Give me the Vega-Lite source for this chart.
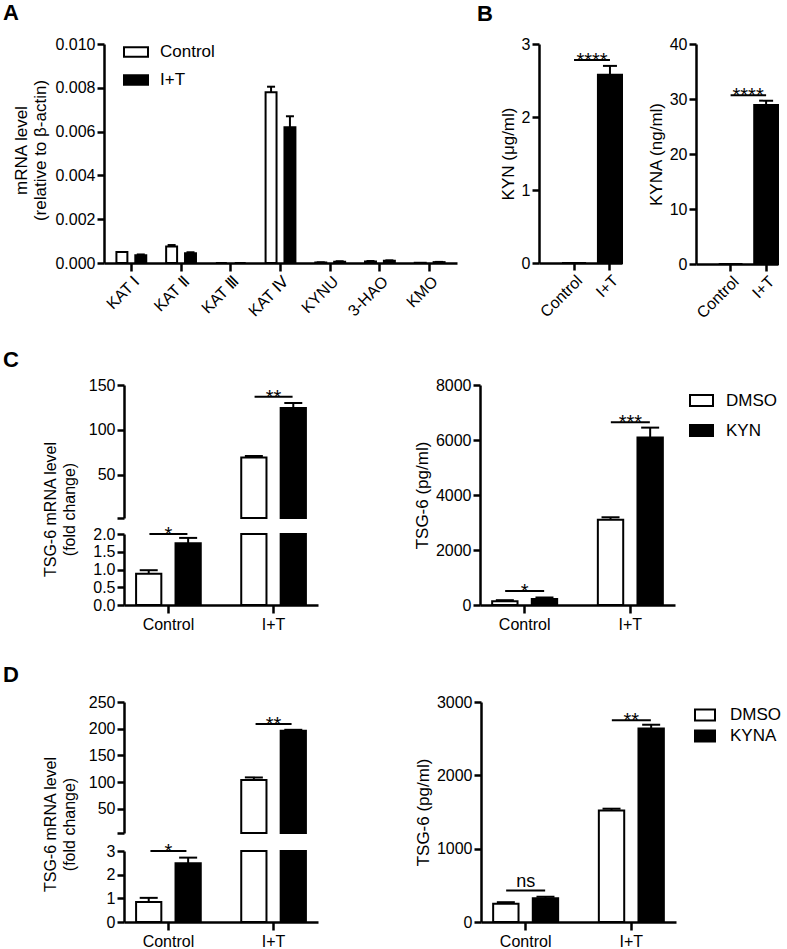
{
"$schema":"https://vega.github.io/schema/vega-lite/v6.json",
"background":"white",
"padding":{"left":3,"top":2,"right":5,"bottom":0},
"config":{
 "font":"Liberation Sans",
 "view":{"stroke":null},
 "axis":{"domainColor":"black","domainWidth":2.5,"tickColor":"black","tickWidth":2.5,"tickSize":7,"labelColor":"black","labelFontSize":16,"labelFont":"Liberation Sans","titleFont":"Liberation Sans","titleColor":"black","titleFontSize":16,"titleFontWeight":"normal","grid":false,"labelPadding":2,"titlePadding":4},
 "title":{"fontSize":22,"fontWeight":"bold","anchor":"start","frame":"group","color":"black","font":"Liberation Sans"},
 "legend":{"title":null,"labelFontSize":17,"labelColor":"black","labelFont":"Liberation Sans","symbolStrokeColor":"black","symbolStrokeWidth":2,"symbolType":"M-1,-0.48H1V0.48H-1Z","symbolSize":529,"labelOffset":12,"padding":0},
 "tick":{"opacity":1},
 "text":{"color":"black"}
},
"spacing":28,
"resolve":{"scale":{"fill":"independent","xOffset":"independent"},"legend":{"fill":"independent"}},
"vconcat":[
 {"hconcat":[
  {"vconcat":[
   {"width":333,"height":219,
    "title":{"text":"A","dx":-121,"offset":11},
    "data":{"values":[
     {"gene":"KAT Ⅰ","group":"Control","value":0.0005},
     {"gene":"KAT Ⅰ","group":"I+T","value":0.00035,"upper":0.00039},
     {"gene":"KAT Ⅱ","group":"Control","value":0.00075,"upper":0.00082},
     {"gene":"KAT Ⅱ","group":"I+T","value":0.00045,"upper":0.00049},
     {"gene":"KAT Ⅲ","group":"Control","value":0},
     {"gene":"KAT Ⅲ","group":"I+T","value":0},
     {"gene":"KAT Ⅳ","group":"Control","value":0.0078,"upper":0.00805},
     {"gene":"KAT Ⅳ","group":"I+T","value":0.0062,"upper":0.0067},
     {"gene":"KYNU","group":"Control","value":0.00002,"upper":0.00003},
     {"gene":"KYNU","group":"I+T","value":0.00006,"upper":0.00008},
     {"gene":"3-HAO","group":"Control","value":0.00007,"upper":0.00009},
     {"gene":"3-HAO","group":"I+T","value":0.0001,"upper":0.00012},
     {"gene":"KMO","group":"Control","value":0.00001},
     {"gene":"KMO","group":"I+T","value":0.00004,"upper":0.00005}
    ]},
    "layer":[
     {"mark":{"type":"bar","stroke":"black","strokeWidth":2},
      "encoding":{
       "x":{"field":"gene","type":"nominal","scale":{"domain":["KAT Ⅰ","KAT Ⅱ","KAT Ⅲ","KAT Ⅳ","KYNU","3-HAO","KMO"],"range":[-20,333],"paddingInner":0.4,"paddingOuter":0.25},"axis":{"title":null,"labelAngle":-45,"tickSize":8,"labelFontSize":16}},
       "xOffset":{"field":"group","type":"nominal","scale":{"domain":["Control","I+T"],"paddingInner":0.42,"paddingOuter":0}},
       "y":{"field":"value","type":"quantitative","scale":{"domain":[0,0.01],"nice":false},"axis":{"offset":20,"values":[0,0.002,0.004,0.006,0.008,0.01],"format":".3f","title":["mRNA level","(relative to β-actin)"],"titleFontSize":17,"titleLineHeight":19,"titleX":-74,"titleY":106,"titleBaseline":"bottom","titleAngle":270}},
       "fill":{"field":"group","type":"nominal","scale":{"domain":["Control","I+T"],"range":["white","black"]},"legend":{"orient":"none","legendX":-1,"legendY":-5,"rowPadding":6,"symbolSize":576,"symbolType":"M-1,-0.4H1V0.4H-1Z","labelOffset":11}}}},
     {"transform":[{"filter":"isValid(datum.upper)"}],
      "mark":{"type":"rule","color":"black","strokeWidth":2},
      "encoding":{"x":{"field":"gene","type":"nominal"},"xOffset":{"field":"group","type":"nominal"},"y":{"field":"value","type":"quantitative"},"y2":{"field":"upper"}}},
     {"transform":[{"filter":"isValid(datum.upper)"}],
      "mark":{"type":"tick","orient":"horizontal","color":"black","size":8,"thickness":2,"opacity":1},
      "encoding":{"x":{"field":"gene","type":"nominal"},"xOffset":{"field":"group","type":"nominal"},"y":{"field":"upper","type":"quantitative"}}}
    ]}
  ]},
  {"hconcat":[
   {"width":83,"height":219,
    "title":{"text":"B","dx":-62,"offset":10},
    "layer":[
     {"data":{"values":[{"group":"Control","value":0},{"group":"I+T","value":2.58,"upper":2.70}]},
      "layer":[
       {"mark":{"type":"bar","stroke":"black","strokeWidth":2},
        "encoding":{
         "x":{"field":"group","type":"nominal","scale":{"domain":["Control","I+T"],"paddingInner":0.33,"paddingOuter":0.32,"align":1},"axis":{"title":null,"labelAngle":-45,"tickSize":7}},
         "y":{"field":"value","type":"quantitative","scale":{"domain":[0,3],"nice":false},"axis":{"values":[0,1,2,3],"format":"d","title":"KYN (μg/ml)","titleFontSize":17}},
         "fill":{"field":"group","type":"nominal","scale":{"domain":["Control","I+T"],"range":["white","black"]},"legend":null}}},
       {"transform":[{"filter":"isValid(datum.upper)"}],
        "mark":{"type":"rule","color":"black","strokeWidth":2},
        "encoding":{"x":{"field":"group","type":"nominal"},"y":{"field":"value","type":"quantitative"},"y2":{"field":"upper"}}},
       {"transform":[{"filter":"isValid(datum.upper)"}],
        "mark":{"type":"tick","orient":"horizontal","color":"black","size":14,"thickness":2,"opacity":1},
        "encoding":{"x":{"field":"group","type":"nominal"},"y":{"field":"upper","type":"quantitative"}}}
      ]},
     {"data":{"values":[{"from":"Control","to":"I+T","y":2.78,"label":"****"}]},
      "layer":[
       {"mark":{"type":"rule","color":"black","strokeWidth":2},
        "encoding":{"x":{"field":"from","type":"nominal"},"x2":{"field":"to"},"y":{"field":"y","type":"quantitative"}}},
       {"mark":{"type":"text","fontSize":20,"dx":-18,"dy":7,"baseline":"alphabetic"},
        "encoding":{"x":{"field":"to","type":"nominal"},"y":{"field":"y","type":"quantitative"},"text":{"field":"label"}}}
      ]}
    ]},
   {"width":82,"height":220,
    "layer":[
     {"data":{"values":[{"group":"Control","value":0},{"group":"I+T","value":28.9,"upper":29.7}]},
      "layer":[
       {"mark":{"type":"bar","stroke":"black","strokeWidth":2},
        "encoding":{
         "x":{"field":"group","type":"nominal","scale":{"domain":["Control","I+T"],"paddingInner":0.33,"paddingOuter":0.32,"align":1},"axis":{"title":null,"labelAngle":-45,"tickSize":7}},
         "y":{"field":"value","type":"quantitative","scale":{"domain":[0,40],"nice":false},"axis":{"values":[0,10,20,30,40],"format":"d","title":"KYNA (ng/ml)","titleFontSize":17}},
         "fill":{"field":"group","type":"nominal","scale":{"domain":["Control","I+T"],"range":["white","black"]},"legend":null}}},
       {"transform":[{"filter":"isValid(datum.upper)"}],
        "mark":{"type":"rule","color":"black","strokeWidth":2},
        "encoding":{"x":{"field":"group","type":"nominal"},"y":{"field":"value","type":"quantitative"},"y2":{"field":"upper"}}},
       {"transform":[{"filter":"isValid(datum.upper)"}],
        "mark":{"type":"tick","orient":"horizontal","color":"black","size":14,"thickness":2,"opacity":1},
        "encoding":{"x":{"field":"group","type":"nominal"},"y":{"field":"upper","type":"quantitative"}}}
      ]},
     {"data":{"values":[{"from":"Control","to":"I+T","y":30.7,"label":"****"}]},
      "layer":[
       {"mark":{"type":"rule","color":"black","strokeWidth":2},
        "encoding":{"x":{"field":"from","type":"nominal"},"x2":{"field":"to"},"y":{"field":"y","type":"quantitative"}}},
       {"mark":{"type":"text","fontSize":20,"dx":-18,"dy":7,"baseline":"alphabetic"},
        "encoding":{"x":{"field":"to","type":"nominal"},"y":{"field":"y","type":"quantitative"},"text":{"field":"label"}}}
      ]}
    ]}
  ],"spacing":24,"resolve":{"scale":{"fill":"independent","xOffset":"independent"},"legend":{"fill":"independent"}}}
 ],"spacing":0,"resolve":{"scale":{"fill":"independent","xOffset":"independent"},"legend":{"fill":"independent"}}},
 {"vconcat":[
  {"hconcat":[
   {"width":194,"height":220,
    "title":{"text":"C","dx":-121,"offset":5},
    "data":{"values":[
     {"cat":"Control","grp":"DMSO","value":0.88,"upper":0.98},
     {"cat":"Control","grp":"KYN","value":1.74,"upper":1.89},
     {"cat":"I+T","grp":"DMSO","value":69.4,"upper":71},
     {"cat":"I+T","grp":"KYN","value":124.5,"upper":130}
    ]},
    "resolve":{"scale":{"y":"independent"},"axis":{"y":"independent"}},
    "layer":[
     {"layer":[
      {"transform":[{"filter":"datum.value > 2"}],
       "mark":{"type":"bar","stroke":"black","strokeWidth":2},
       "encoding":{
        "x":{"field":"cat","type":"nominal","scale":{"domain":["Control","I+T"],"paddingInner":0.385,"paddingOuter":0.115},"axis":{"title":null,"labelAngle":0,"labelFontSize":16,"tickSize":8,"labelPadding":3}},
        "xOffset":{"field":"grp","type":"nominal","scale":{"domain":["DMSO","KYN"],"paddingInner":0.36,"paddingOuter":0}},
        "y":{"field":"value","type":"quantitative","scale":{"domain":[2,150],"range":[133,0],"nice":false,"zero":false},"axis":{"orient":"left","values":[2,50,100,150],"labelExpr":"datum.value == 2 ? '' : datum.label","title":["TSG-6 mRNA level","(fold change)"],"titleFontSize":16,"titleLineHeight":19,"titleX":-66,"titleY":124,"titleBaseline":"bottom","titleAngle":270}},
        "y2":{"datum":2},
        "fill":{"field":"grp","type":"nominal","scale":{"domain":["DMSO","KYN"],"range":["white","black"]},"legend":null}}},
      {"transform":[{"filter":"datum.value > 2"}],
       "mark":{"type":"rule","color":"black","strokeWidth":2},
       "encoding":{"x":{"field":"cat","type":"nominal"},"xOffset":{"field":"grp","type":"nominal"},"y":{"field":"value","type":"quantitative"},"y2":{"field":"upper"}}},
      {"transform":[{"filter":"datum.value > 2"}],
       "mark":{"type":"tick","orient":"horizontal","color":"black","size":18,"thickness":2,"opacity":1},
       "encoding":{"x":{"field":"cat","type":"nominal"},"xOffset":{"field":"grp","type":"nominal"},"y":{"field":"upper","type":"quantitative"}}},
      {"data":{"values":[{"cat":"I+T","y":137,"label":"**"}]},
       "layer":[
        {"mark":{"type":"tick","orient":"horizontal","color":"black","size":38,"thickness":2,"opacity":1},
         "encoding":{"x":{"field":"cat","type":"nominal"},"y":{"field":"y","type":"quantitative"}}},
        {"mark":{"type":"text","fontSize":20,"baseline":"alphabetic","dy":7},
         "encoding":{"x":{"field":"cat","type":"nominal"},"y":{"field":"y","type":"quantitative"},"text":{"field":"label"}}}
       ]}
     ]},
     {"layer":[
      {"mark":{"type":"bar","stroke":"black","strokeWidth":2},
       "encoding":{
        "x":{"field":"cat","type":"nominal"},
        "xOffset":{"field":"grp","type":"nominal"},
        "y":{"field":"value","type":"quantitative","scale":{"domain":[0,2],"range":[220,149],"nice":false,"clamp":true},"axis":{"orient":"left","values":[0,0.5,1,1.5,2],"format":".1f","title":null}},
        "fill":{"field":"grp","type":"nominal"}}},
      {"transform":[{"filter":"datum.upper <= 2"}],
       "mark":{"type":"rule","color":"black","strokeWidth":2},
       "encoding":{"x":{"field":"cat","type":"nominal"},"xOffset":{"field":"grp","type":"nominal"},"y":{"field":"value","type":"quantitative"},"y2":{"field":"upper"}}},
      {"transform":[{"filter":"datum.upper <= 2"}],
       "mark":{"type":"tick","orient":"horizontal","color":"black","size":18,"thickness":2,"opacity":1},
       "encoding":{"x":{"field":"cat","type":"nominal"},"xOffset":{"field":"grp","type":"nominal"},"y":{"field":"upper","type":"quantitative"}}},
      {"data":{"values":[{"cat":"Control","y":2.05,"label":"*"}]},
       "layer":[
        {"mark":{"type":"tick","orient":"horizontal","color":"black","size":38,"thickness":2,"opacity":1},
         "encoding":{"x":{"field":"cat","type":"nominal"},"y":{"field":"y","type":"quantitative"}}},
        {"mark":{"type":"text","fontSize":20,"baseline":"alphabetic","dy":7},
         "encoding":{"x":{"field":"cat","type":"nominal"},"y":{"field":"y","type":"quantitative"},"text":{"field":"label"}}}
       ]}
     ]}
    ]},
   {"width":195,"height":220,
    "layer":[
     {"data":{"values":[
       {"cat":"Control","grp":"DMSO","value":140,"upper":175},
       {"cat":"Control","grp":"KYN","value":215,"upper":275},
       {"cat":"I+T","grp":"DMSO","value":3100,"upper":3190},
       {"cat":"I+T","grp":"KYN","value":6090,"upper":6450}
      ]},
      "layer":[
       {"mark":{"type":"bar","stroke":"black","strokeWidth":2},
        "encoding":{
         "x":{"field":"cat","type":"nominal","scale":{"domain":["Control","I+T"],"paddingInner":0.385,"paddingOuter":0.115},"axis":{"title":null,"labelAngle":0,"labelFontSize":16,"tickSize":8,"labelPadding":3}},
         "xOffset":{"field":"grp","type":"nominal","scale":{"domain":["DMSO","KYN"],"paddingInner":0.36,"paddingOuter":0}},
         "y":{"field":"value","type":"quantitative","scale":{"domain":[0,8000],"nice":false},"axis":{"values":[0,2000,4000,6000,8000],"format":"d","title":"TSG-6 (pg/ml)","titleFontSize":17}},
         "fill":{"field":"grp","type":"nominal","scale":{"domain":["DMSO","KYN"],"range":["white","black"]},"legend":{"orient":"none","legendX":209,"legendY":3,"rowPadding":7}}}},
       {"mark":{"type":"rule","color":"black","strokeWidth":2},
        "encoding":{"x":{"field":"cat","type":"nominal"},"xOffset":{"field":"grp","type":"nominal"},"y":{"field":"value","type":"quantitative"},"y2":{"field":"upper"}}},
       {"mark":{"type":"tick","orient":"horizontal","color":"black","size":18,"thickness":2,"opacity":1},
        "encoding":{"x":{"field":"cat","type":"nominal"},"xOffset":{"field":"grp","type":"nominal"},"y":{"field":"upper","type":"quantitative"}}}
      ]},
     {"data":{"values":[{"cat":"Control","y":510,"label":"*"},{"cat":"I+T","y":6650,"label":"***"}]},
      "layer":[
       {"mark":{"type":"tick","orient":"horizontal","color":"black","size":39,"thickness":2,"opacity":1},
        "encoding":{"x":{"field":"cat","type":"nominal"},"y":{"field":"y","type":"quantitative"}}},
       {"mark":{"type":"text","fontSize":20,"baseline":"alphabetic","dy":7},
        "encoding":{"x":{"field":"cat","type":"nominal"},"y":{"field":"y","type":"quantitative"},"text":{"field":"label"}}}
      ]}
    ]}
  ],"spacing":95,"resolve":{"scale":{"fill":"independent","xOffset":"independent"},"legend":{"fill":"independent"}}},
  {"hconcat":[
   {"width":194,"height":220,
    "title":{"text":"D","dx":-121,"offset":7},
    "data":{"values":[
     {"cat":"Control","grp":"DMSO","value":0.85,"upper":1.02},
     {"cat":"Control","grp":"KYNA","value":2.48,"upper":2.72},
     {"cat":"I+T","grp":"DMSO","value":104,"upper":109},
     {"cat":"I+T","grp":"KYNA","value":196,"upper":198}
    ]},
    "resolve":{"scale":{"y":"independent"},"axis":{"y":"independent"}},
    "layer":[
     {"layer":[
      {"transform":[{"filter":"datum.value > 5"}],
       "mark":{"type":"bar","stroke":"black","strokeWidth":2},
       "encoding":{
        "x":{"field":"cat","type":"nominal","scale":{"domain":["Control","I+T"],"paddingInner":0.385,"paddingOuter":0.115},"axis":{"title":null,"labelAngle":0,"labelFontSize":16,"tickSize":8,"labelPadding":3}},
        "xOffset":{"field":"grp","type":"nominal","scale":{"domain":["DMSO","KYNA"],"paddingInner":0.36,"paddingOuter":0}},
        "y":{"field":"value","type":"quantitative","scale":{"domain":[5,250],"range":[131,0],"nice":false,"zero":false},"axis":{"orient":"left","values":[5,50,100,150,200,250],"labelExpr":"datum.value == 5 ? '' : datum.label","title":["TSG-6 mRNA level","(fold change)"],"titleFontSize":16,"titleLineHeight":19,"titleX":-66,"titleY":122,"titleBaseline":"bottom","titleAngle":270}},
        "y2":{"datum":5},
        "fill":{"field":"grp","type":"nominal","scale":{"domain":["DMSO","KYNA"],"range":["white","black"]},"legend":null}}},
      {"transform":[{"filter":"datum.value > 5"}],
       "mark":{"type":"rule","color":"black","strokeWidth":2},
       "encoding":{"x":{"field":"cat","type":"nominal"},"xOffset":{"field":"grp","type":"nominal"},"y":{"field":"value","type":"quantitative"},"y2":{"field":"upper"}}},
      {"transform":[{"filter":"datum.value > 5"}],
       "mark":{"type":"tick","orient":"horizontal","color":"black","size":18,"thickness":2,"opacity":1},
       "encoding":{"x":{"field":"cat","type":"nominal"},"xOffset":{"field":"grp","type":"nominal"},"y":{"field":"upper","type":"quantitative"}}},
      {"data":{"values":[{"cat":"I+T","y":209,"label":"**"}]},
       "layer":[
        {"mark":{"type":"tick","orient":"horizontal","color":"black","size":36,"thickness":2,"opacity":1},
         "encoding":{"x":{"field":"cat","type":"nominal"},"y":{"field":"y","type":"quantitative"}}},
        {"mark":{"type":"text","fontSize":20,"baseline":"alphabetic","dy":7},
         "encoding":{"x":{"field":"cat","type":"nominal"},"y":{"field":"y","type":"quantitative"},"text":{"field":"label"}}}
       ]}
     ]},
     {"layer":[
      {"mark":{"type":"bar","stroke":"black","strokeWidth":2},
       "encoding":{
        "x":{"field":"cat","type":"nominal"},
        "xOffset":{"field":"grp","type":"nominal"},
        "y":{"field":"value","type":"quantitative","scale":{"domain":[0,3],"range":[220,149],"nice":false,"clamp":true},"axis":{"orient":"left","values":[0,1,2,3],"format":"d","title":null}},
        "fill":{"field":"grp","type":"nominal"}}},
      {"transform":[{"filter":"datum.upper <= 3"}],
       "mark":{"type":"rule","color":"black","strokeWidth":2},
       "encoding":{"x":{"field":"cat","type":"nominal"},"xOffset":{"field":"grp","type":"nominal"},"y":{"field":"value","type":"quantitative"},"y2":{"field":"upper"}}},
      {"transform":[{"filter":"datum.upper <= 3"}],
       "mark":{"type":"tick","orient":"horizontal","color":"black","size":18,"thickness":2,"opacity":1},
       "encoding":{"x":{"field":"cat","type":"nominal"},"xOffset":{"field":"grp","type":"nominal"},"y":{"field":"upper","type":"quantitative"}}},
      {"data":{"values":[{"cat":"Control","y":3.0,"label":"*"}]},
       "layer":[
        {"mark":{"type":"tick","orient":"horizontal","color":"black","size":36,"thickness":2,"opacity":1},
         "encoding":{"x":{"field":"cat","type":"nominal"},"y":{"field":"y","type":"quantitative"}}},
        {"mark":{"type":"text","fontSize":20,"baseline":"alphabetic","dy":7},
         "encoding":{"x":{"field":"cat","type":"nominal"},"y":{"field":"y","type":"quantitative"},"text":{"field":"label"}}}
       ]}
     ]}
    ]},
   {"width":195,"height":220,
    "layer":[
     {"data":{"values":[
       {"cat":"Control","grp":"DMSO","value":250,"upper":270},
       {"cat":"Control","grp":"KYNA","value":325,"upper":345},
       {"cat":"I+T","grp":"DMSO","value":1520,"upper":1545},
       {"cat":"I+T","grp":"KYNA","value":2640,"upper":2690}
      ]},
      "layer":[
       {"mark":{"type":"bar","stroke":"black","strokeWidth":2},
        "encoding":{
         "x":{"field":"cat","type":"nominal","scale":{"domain":["Control","I+T"],"paddingInner":0.385,"paddingOuter":0.115},"axis":{"title":null,"labelAngle":0,"labelFontSize":16,"tickSize":8,"labelPadding":3}},
         "xOffset":{"field":"grp","type":"nominal","scale":{"domain":["DMSO","KYNA"],"paddingInner":0.36,"paddingOuter":0}},
         "y":{"field":"value","type":"quantitative","scale":{"domain":[0,3000],"nice":false},"axis":{"values":[0,1000,2000,3000],"format":"d","title":"TSG-6 (pg/ml)","titleFontSize":17}},
         "fill":{"field":"grp","type":"nominal","scale":{"domain":["DMSO","KYNA"],"range":["white","black"]},"legend":{"orient":"none","legendX":213,"legendY":2,"rowPadding":0,"symbolSize":400,"symbolType":"M-1,-0.55H1V0.55H-1Z","labelOffset":14}}}},
       {"mark":{"type":"rule","color":"black","strokeWidth":2},
        "encoding":{"x":{"field":"cat","type":"nominal"},"xOffset":{"field":"grp","type":"nominal"},"y":{"field":"value","type":"quantitative"},"y2":{"field":"upper"}}},
       {"mark":{"type":"tick","orient":"horizontal","color":"black","size":18,"thickness":2,"opacity":1},
        "encoding":{"x":{"field":"cat","type":"nominal"},"xOffset":{"field":"grp","type":"nominal"},"y":{"field":"upper","type":"quantitative"}}}
      ]},
     {"data":{"values":[{"cat":"Control","y":430,"label":"ns"},{"cat":"I+T","y":2750,"label":"**"}]},
      "layer":[
       {"mark":{"type":"tick","orient":"horizontal","color":"black","size":39,"thickness":2,"opacity":1},
        "encoding":{"x":{"field":"cat","type":"nominal"},"y":{"field":"y","type":"quantitative"}}},
       {"transform":[{"filter":"datum.label != 'ns'"}],
        "mark":{"type":"text","fontSize":20,"baseline":"alphabetic","dy":7},
        "encoding":{"x":{"field":"cat","type":"nominal"},"y":{"field":"y","type":"quantitative"},"text":{"field":"label"}}},
       {"transform":[{"filter":"datum.label == 'ns'"}],
        "mark":{"type":"text","fontSize":18,"baseline":"alphabetic","dy":-3},
        "encoding":{"x":{"field":"cat","type":"nominal"},"y":{"field":"y","type":"quantitative"},"text":{"field":"label"}}}
      ]}
    ]}
  ],"spacing":96,"resolve":{"scale":{"fill":"independent","xOffset":"independent"},"legend":{"fill":"independent"}}}
 ],"spacing":32,"resolve":{"scale":{"fill":"independent","xOffset":"independent"},"legend":{"fill":"independent"}}}
]
}
